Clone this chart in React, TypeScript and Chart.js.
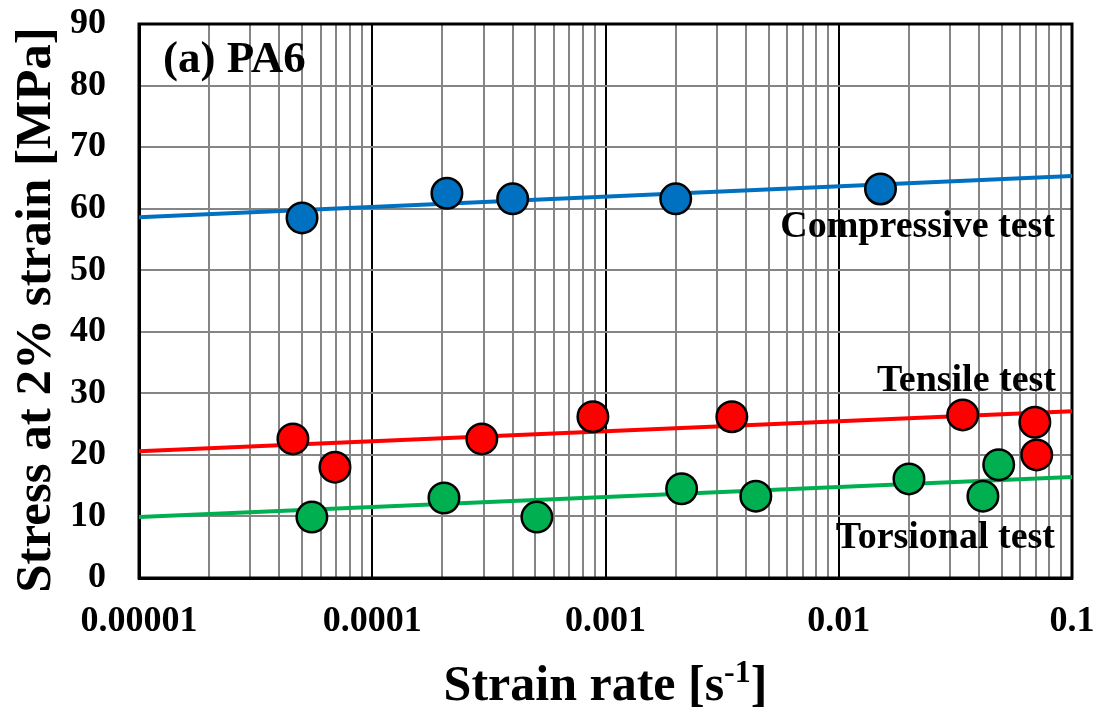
import React, { useEffect, useRef } from "react";
import { Chart, registerables } from "chart.js";

Chart.register(...registerables);

// ---- data ----
const compressiveX = [5.0e-5, 2.09e-4, 4.0e-4, 2.0e-3, 0.0151];
const compressiveY = [58.5, 62.5, 61.6, 61.6, 63.2];

const tensileX = [4.57e-5, 6.92e-5, 2.95e-4, 8.83e-4, 3.48e-3, 0.034, 0.0693, 0.0706];
const tensileY = [22.6, 18.0, 22.6, 26.2, 26.2, 26.5, 25.3, 20.0];

const torsionalX = [5.51e-5, 2.03e-4, 5.08e-4, 2.12e-3, 4.41e-3, 0.02, 0.0415, 0.0485];
const torsionalY = [9.9, 13.0, 9.9, 14.5, 13.3, 16.1, 13.3, 18.4];

const trendX = [0.00001, 0.1];
const compressiveTrendY = [58.6, 65.3];
const tensileTrendY = [20.6, 27.1];
const torsionalTrendY = [9.9, 16.4];

const decadeTicks = [0.00001, 0.0001, 0.001, 0.01, 0.1];
const decadeLabels = ["0.00001", "0.0001", "0.001", "0.01", "0.1"];
const minorMultipliers = [2, 3, 4, 5, 6, 7, 8, 9];
const yTicks = [0, 10, 20, 30, 40, 50, 60, 70, 80, 90];

const BLUE = "#0070C0";
const RED = "#FF0000";
const GREEN = "#00B050";
const FONT = "'Liberation Serif', 'Times New Roman', serif";

const zip = (xs: number[], ys: number[]) => xs.map((x, i) => ({ x, y: ys[i] }));

const isDecade = (v: number) => decadeTicks.some((d) => Math.abs(v - d) / d < 1e-6);

const textPlugin = {
  id: "customText",
  beforeDatasetsDraw(chart: any) {
    const { ctx, chartArea } = chart;
    ctx.save();
    ctx.strokeStyle = "#000";
    ctx.lineWidth = 3;
    ctx.strokeRect(chartArea.left, chartArea.top, chartArea.right - chartArea.left, chartArea.bottom - chartArea.top);
    ctx.restore();
  },
  afterDatasetsDraw(chart: any) {
    const { ctx, chartArea } = chart;
    ctx.save();
    ctx.fillStyle = "#000";
    ctx.textBaseline = "alphabetic";

    // panel label
    ctx.font = `bold 45px ${FONT}`;
    ctx.textAlign = "left";
    ctx.fillText("(a) PA6", 163, 72);

    // curve labels
    ctx.font = `bold 38px ${FONT}`;
    ctx.textAlign = "right";
    ctx.fillText("Compressive test", 1055, 237);
    ctx.fillText("Tensile test", 1056, 391);
    ctx.fillText("Torsional test", 1055, 548);

    // x-axis title with superscript
    const mainFont = `bold 50px ${FONT}`;
    const supFont = `bold 32px ${FONT}`;
    const t1 = "Strain rate [s";
    const t2 = "-1";
    const t3 = "]";
    ctx.font = mainFont;
    const w1 = ctx.measureText(t1).width;
    const w3 = ctx.measureText(t3).width;
    ctx.font = supFont;
    const w2 = ctx.measureText(t2).width;
    const total = w1 + w2 + w3;
    const cx = (chartArea.left + chartArea.right) / 2;
    let x = cx - total / 2;
    const base = 700;
    ctx.textAlign = "left";
    ctx.font = mainFont;
    ctx.fillText(t1, x, base);
    x += w1;
    ctx.font = supFont;
    ctx.fillText(t2, x, base - 18);
    x += w2;
    ctx.font = mainFont;
    ctx.fillText(t3, x, base);

    // y-axis title
    ctx.translate(50, 310);
    ctx.rotate(-Math.PI / 2);
    ctx.font = `bold 51px ${FONT}`;
    ctx.textAlign = "center";
    ctx.fillText("Stress at 2% strain [MPa]", 0, 0);
    ctx.restore();
  },
};

export default function App() {
  const canvasRef = useRef<HTMLCanvasElement | null>(null);

  useEffect(() => {
    document.body.style.margin = "0";
    const canvas = canvasRef.current;
    if (!canvas) return;

    const pointDs = (label: string, xs: number[], ys: number[], color: string) => ({
      type: "scatter" as const,
      label,
      data: zip(xs, ys),
      backgroundColor: color,
      borderColor: "#000",
      borderWidth: 2.5,
      pointRadius: 15.25,
      pointHoverRadius: 15.25,
      showLine: false,
      order: 1,
    });
    const lineDs = (label: string, ys: number[], color: string) => ({
      type: "scatter" as const,
      label,
      data: zip(trendX, ys),
      borderColor: color,
      backgroundColor: color,
      borderWidth: 4,
      pointRadius: 0,
      showLine: true,
      order: 2,
    });

    const zeroPad = (scale: any) => {
      scale.paddingTop = 0;
      scale.paddingBottom = 0;
      scale.paddingLeft = 0;
      scale.paddingRight = 0;
    };

    const chart = new Chart(canvas, {
      type: "scatter",
      data: {
        datasets: [
          lineDs("Compressive trend", compressiveTrendY, BLUE),
          lineDs("Tensile trend", tensileTrendY, RED),
          lineDs("Torsional trend", torsionalTrendY, GREEN),
          pointDs("Compressive test", compressiveX, compressiveY, BLUE),
          pointDs("Tensile test", tensileX, tensileY, RED),
          pointDs("Torsional test", torsionalX, torsionalY, GREEN),
        ] as any,
      },
      options: {
        animation: false,
        responsive: false,
        maintainAspectRatio: false,
        layout: { padding: { top: 24, right: 28, left: 0, bottom: 0 } },
        plugins: {
          legend: { display: false },
          tooltip: { enabled: false },
          title: { display: false },
        },
        scales: {
          x: {
            type: "logarithmic",
            min: 0.00001,
            max: 0.1,
            afterBuildTicks: (scale: any) => {
              const ticks: any[] = [];
              decadeTicks.forEach((d, i) => {
                ticks.push({ value: d, major: true });
                if (i < decadeTicks.length - 1) {
                  minorMultipliers.forEach((m) => ticks.push({ value: d * m, major: false }));
                }
              });
              scale.ticks = ticks;
            },
            afterFit: (scale: any) => {
              scale.height = 135;
              zeroPad(scale);
            },
            ticks: {
              autoSkip: false,
              maxRotation: 0,
              minRotation: 0,
              padding: 22,
              color: "#000",
              font: { family: FONT, size: 36, weight: "bold" },
              callback: (value: any) => {
                const idx = decadeTicks.findIndex((d) => Math.abs(Number(value) - d) / d < 1e-6);
                return idx >= 0 ? decadeLabels[idx] : "";
              },
            },
            grid: {
              drawTicks: false,
              color: (ctx: any) => (ctx.tick && isDecade(ctx.tick.value) ? "#000000" : "#858585"),
              lineWidth: 2,
            },
            border: { display: true, color: "#000", width: 3 },
          },
          y: {
            type: "linear",
            min: 0,
            max: 90,
            afterBuildTicks: (scale: any) => {
              scale.ticks = yTicks.map((v) => ({ value: v }));
            },
            afterFit: (scale: any) => {
              scale.width = 139;
              zeroPad(scale);
            },
            ticks: {
              padding: 33,
              color: "#000",
              font: { family: FONT, size: 36, weight: "bold" },
              callback: (value: any) => String(value),
            },
            grid: {
              drawTicks: false,
              color: "#858585",
              lineWidth: 2,
            },
            border: { display: true, color: "#000", width: 3 },
          },
        },
      } as any,
      plugins: [textPlugin],
    });

    return () => chart.destroy();
  }, []);

  return (
    <div style={{ width: 1100, height: 713, background: "#fff" }}>
      <canvas ref={canvasRef} width={1100} height={713} style={{ display: "block" }} />
    </div>
  );
}
